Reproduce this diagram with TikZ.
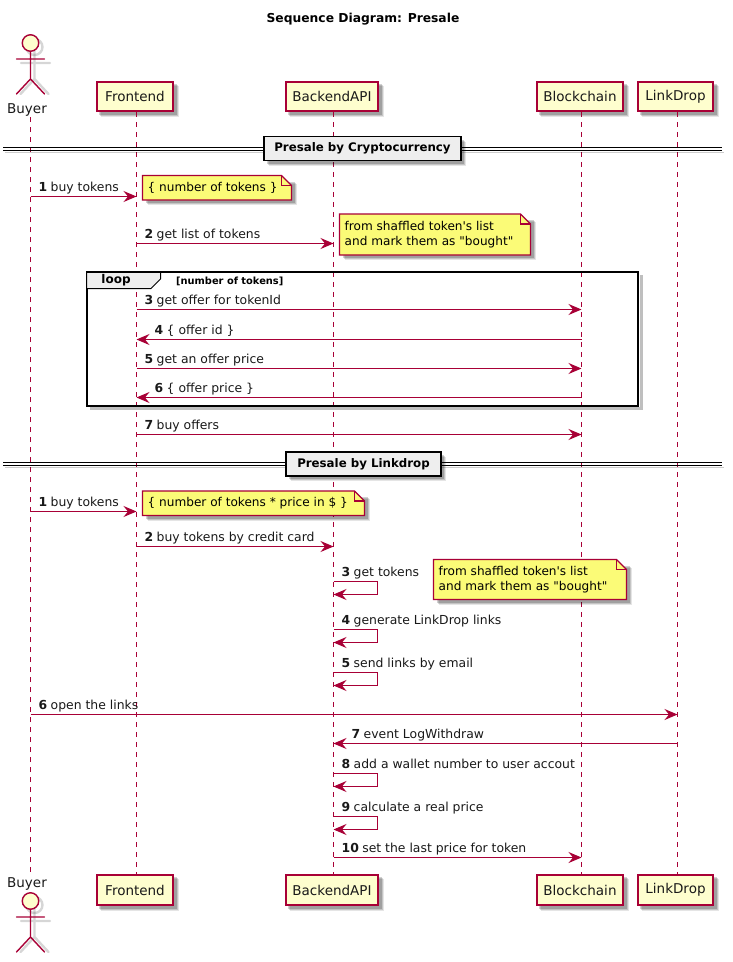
\documentclass[tikz,border=0pt]{standalone}
\usepackage{fontspec}
\setmainfont[Ligatures=TeXOff]{DejaVu Sans}
\usetikzlibrary{arrows.meta,calc}
\definecolor{puborder}{HTML}{A80036}
\definecolor{pufill}{HTML}{FEFECE}
\definecolor{punote}{HTML}{FBFB77}
\definecolor{pugrey}{HTML}{EEEEEE}
\tikzset{
  partbox/.style={fill=pufill,inner sep=0pt,outer sep=2pt,font=\fontsize{13.5}{16}\selectfont,text=black!90},
  partedge/.style={fill=puborder},
  lifeline/.style={draw=puborder,line width=1pt,dash pattern=on 5pt off 5pt},
  msgline/.style={draw=puborder,line width=1pt,-{Stealth[length=13pt,width=11pt,inset=4.5pt]}},
  msgtext/.style={anchor=base west,inner sep=0pt,font=\fontsize{12.4}{15}\selectfont,text=black!90},
  notebox/.style={draw=puborder,fill=punote,line width=1.1pt,line join=miter},
  notefold/.style={draw=puborder,line width=1.1pt},
  notetext/.style={anchor=west,inner sep=0pt,align=left,font=\fontsize{12.1}{15}\selectfont,text=black},
  divbox/.style={draw=black,fill=pugrey,line width=1.8pt,inner sep=0pt,font=\bfseries\fontsize{11.8}{14}\selectfont},
  divline/.style={draw=black,line width=1.1pt},
  divshadow/.style={draw=black,opacity=.2,line width=1.5pt},
  actorstroke/.style={draw=puborder,line width=1.4pt,line cap=round},
  actorshadow/.style={draw=black,opacity=.16,line width=2.4pt,line cap=round},
  actorname/.style={inner sep=0pt,font=\fontsize{13.5}{16}\selectfont,text=black!90},
  shadowA/.style={fill=black,fill opacity=.10},
  shadowB/.style={fill=black,fill opacity=.14},
  shadowC/.style={fill=black,fill opacity=.18},
}
% soft shadow of a box: left, top, right, bottom
\newcommand{\softshade}[4]{%
  \path[shadowA] (#1+5,#2+5) rectangle (#3+5,#4+5);
  \path[shadowB] (#1+4,#2+4) rectangle (#3+4,#4+4);
  \path[shadowC] (#1+3,#2+3) rectangle (#3+3,#4+3);}
% name, centre x, centre y, outer width, outer height, text
\newcommand{\partnode}[6]{%
  \softshade{#2-#4/2}{#3-#5/2}{#2+#4/2}{#3+#5/2}
  \path[partedge] (#2-#4/2,#3-#5/2) rectangle (#2+#4/2,#3+#5/2);
  \node[partbox,minimum width=#4pt-4pt,minimum height=#5pt-4pt] (#1) at (#2,#3) {#6};}
\newcommand{\divnode}[6]{%
  \softshade{#2-#4/2}{#3-#5/2}{#2+#4/2}{#3+#5/2}
  \node[divbox,minimum width=#4pt,minimum height=#5pt] (#1) at (#2,#3) {#6};}
\newcommand{\msgR}[6]{%
  \draw[msgline] (#2 |- 0,#4) -- (#3 |- 0,#4);
  \node[msgtext] (#1) at ($(#2 |- 0,#4)+(8,-4.7)$) {\textbf{#5}\hspace{3.4pt}#6};}
\newcommand{\msgL}[6]{%
  \draw[msgline] (#2 |- 0,#4) -- (#3 |- 0,#4);
  \node[msgtext] (#1) at ($(#3 |- 0,#4)+(18,-4.7)$) {\textbf{#5}\hspace{3.4pt}#6};}
\newcommand{\msgS}[5]{%
  \draw[msgline] (#2 |- 0,#3) -- ++(43.5,0) -- ++(0,13) -- (#2 |- 0,#3+13);
  \node[msgtext] (#1) at ($(#2 |- 0,#3)+(8,-4.7)$) {\textbf{#4}\hspace{3.4pt}#5};}
% name, x0, y0, x1, y1, text
\newcommand{\notebubble}[6]{%
  \softshade{#2}{#3+3}{#4}{#5}
  \path[notebox] (#2,#3) -- (#4-10,#3) -- (#4,#3+10) -- (#4,#5) -- (#2,#5) -- cycle;
  \draw[notefold] (#4-10,#3) -- (#4-10,#3+10) -- (#4,#3+10);
  \node[notetext] (#1) at (#2+5,{(#3+#5)/2}) {#6};}
\newcommand{\actorfig}[3]{%
  \draw[actorshadow] (#1+4,#2+4) circle (8) ;
  \draw[actorshadow] (#1+4,#2+8) -- (#1+4,#2+36) (#1-9.5,#2+20) -- (#1+19.5,#2+20)
     (#1+4,#2+36) -- (#1-10,#2+51) (#1+4,#2+36) -- (#1+18,#2+51);
  \node[circle,draw=puborder,fill=pufill,line width=1.4pt,minimum size=16.5pt,inner sep=0pt] (#3) at (#1,#2) {};
  \draw[actorstroke] (#3.south) -- (#1,#2+36) (#1-14,#2+16) -- (#1+14,#2+16)
     (#1,#2+36) -- (#1-14,#2+51) (#1,#2+36) -- (#1+14,#2+51);}
\begin{document}
\begin{tikzpicture}[x=1pt,y=-1pt]
\useasboundingbox (0,0) rectangle (733,962);
\fill[white] (0,0) rectangle (733,962);
% lifeline positions
\coordinate (buyer) at (30.5,117);
\coordinate (fe) at (136.5,117);
\coordinate (be) at (333.5,117);
\coordinate (bc) at (581.5,117);
\coordinate (ld) at (677.5,117);
\coordinate (buyerEnd) at (30.5,872);
\node[font=\bfseries\fontsize{12.3}{16}\selectfont,inner sep=0pt] (title) at (363,19) {Sequence Diagram: Presale};
% participants
\partnode{feTop}{135}{96.5}{78}{31}{Frontend}
\partnode{beTop}{332}{96.5}{94}{31}{BackendAPI}
\partnode{bcTop}{580}{96.5}{88}{31}{Blockchain}
\partnode{ldTop}{675.5}{96.5}{77}{31}{LinkDrop}
\partnode{feBot}{135}{890}{78}{32}{Frontend}
\partnode{beBot}{332}{890}{94}{32}{BackendAPI}
\partnode{bcBot}{580}{890}{88}{32}{Blockchain}
\partnode{ldBot}{675.5}{890}{77}{32}{LinkDrop}
% actors
\actorfig{30.5}{43}{buyerHead}
\actorfig{30.5}{901}{buyerFoot}
\node[actorname] (buyerTop) at (27,110) {Buyer};
\node[actorname] (buyerBot) at (27,884) {Buyer};
% lifelines
\draw[lifeline] (buyer) -- (buyerEnd);
\draw[lifeline] (feTop.south -| fe) -- (feBot.north -| fe);
\draw[lifeline] (beTop.south -| be) -- (beBot.north -| be);
\draw[lifeline] (bcTop.south -| bc) -- (bcBot.north -| bc);
\draw[lifeline] (ldTop.south -| ld) -- (ldBot.north -| ld);
% divider 1
\draw[divshadow] (5,152.5) -- (724,152.5);
\draw[divline] (3,147.3) -- (722,147.3);
\draw[divline] (3,150.3) -- (722,150.3);
\divnode{divOne}{362.5}{148.5}{197}{24}{Presale by Cryptocurrency}
% messages section 1
\msgR{a1}{buyer}{fe}{196.5}{1}{buy tokens}
\notebubble{n1}{142.5}{175.5}{291.5}{200}{\{ number of tokens \}}
\msgR{a2}{fe}{be}{243.5}{2}{get list of tokens}
\notebubble{n2}{339.5}{214}{530.5}{255}{from shaffled token's list\\and mark them as "bought"}
% loop
\draw[draw=black,opacity=.25,line width=3pt] (90,408) -- (641,408) -- (641,275);
\draw[draw=black,line width=2pt] (86.5,271.5) rectangle (637.5,405.5);
\path[draw=black,fill=pugrey,line width=1pt] (86.5,271.5) -- (160.5,271.5) -- (160.5,279) -- (151,288.5) -- (86.5,288.5) -- cycle;
\draw[draw=black,line width=2pt] (86.5,271.5) -- (160.5,271.5);
\node[inner sep=0pt,font=\bfseries\fontsize{12}{14}\selectfont] (loopName) at (116,280.5) {loop};
\node[inner sep=0pt,anchor=base west,font=\bfseries\fontsize{9.85}{12}\selectfont] (loopCond) at (176,284) {[number of tokens]};
\msgR{a3}{fe}{bc}{309.5}{3}{get offer for tokenId}
\msgL{a4}{bc}{fe}{339.5}{4}{\{ offer id \}}
\msgR{a5}{fe}{bc}{368.5}{5}{get an offer price}
\msgL{a6}{bc}{fe}{397.5}{6}{\{ offer price \}}
\msgR{a7}{fe}{bc}{434.5}{7}{buy offers}
% divider 2
\draw[divshadow] (5,467.5) -- (724,467.5);
\draw[divline] (3,462.3) -- (722,462.3);
\draw[divline] (3,465.3) -- (722,465.3);
\divnode{divTwo}{363.5}{464}{155}{24}{Presale by Linkdrop}
% messages section 2
\msgR{b1}{buyer}{fe}{511.5}{1}{buy tokens}
\notebubble{n3}{142.5}{491}{364.5}{515.5}{\{ number of tokens * price in \$ \}}
\msgR{b2}{fe}{be}{546.5}{2}{buy tokens by credit card}
\msgS{b3}{be}{581.5}{3}{get tokens}
\notebubble{n4}{433.5}{559.5}{626.5}{599.5}{from shaffled token's list\\and mark them as "bought"}
\msgS{b4}{be}{629.5}{4}{generate LinkDrop links}
\msgS{b5}{be}{672.5}{5}{send links by email}
\msgR{b6}{buyer}{ld}{714.5}{6}{open the links}
\msgL{b7}{ld}{be}{743.5}{7}{event LogWithdraw}
\msgS{b8}{be}{773.5}{8}{add a wallet number to user accout}
\msgS{b9}{be}{816.5}{9}{calculate a real price}
\msgR{b10}{be}{bc}{857.5}{10}{set the last price for token}
\end{tikzpicture}
\end{document}
